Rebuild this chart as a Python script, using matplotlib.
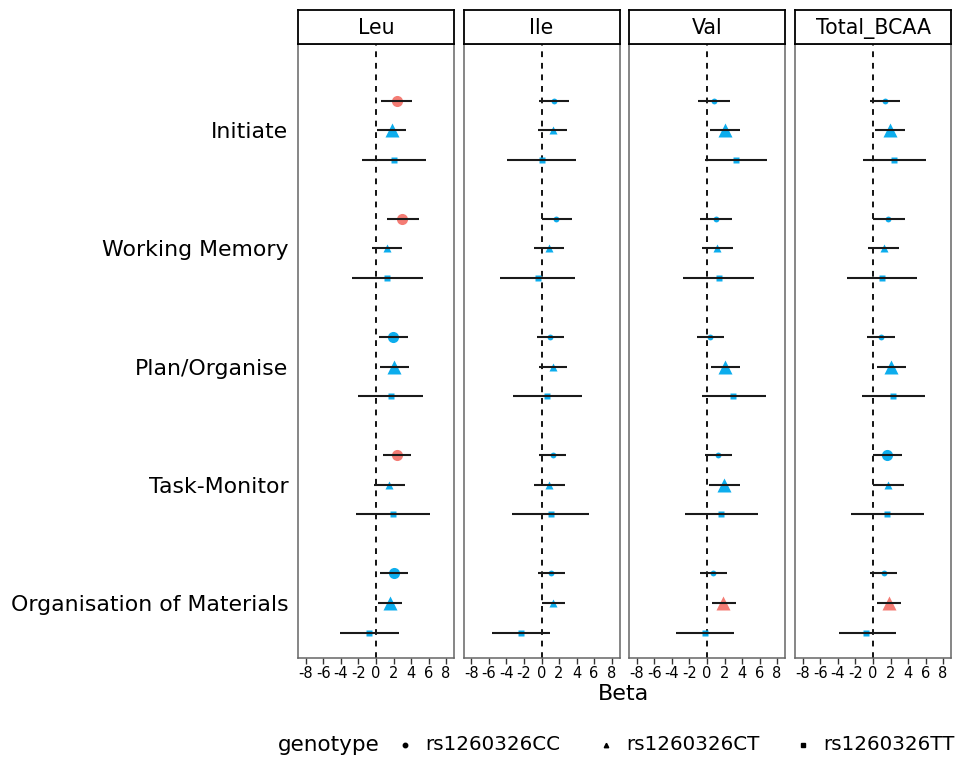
import numpy as np
import matplotlib
matplotlib.use("Agg")
import matplotlib.pyplot as plt

# --- data ---
outcomes = ["Initiate", "Working Memory", "Plan/Organise", "Task-Monitor",
            "Organisation of Materials"]
genotypes = ["rs1260326CC", "rs1260326CT", "rs1260326TT"]
panels = ["Leu", "Ile", "Val", "Total_BCAA"]

# order: outcome by outcome, CC / CT / TT inside each
leu_beta = [2.36, 1.79, 2.02, 3.0, 1.22, 1.3, 1.9, 2.02, 1.71, 2.4, 1.52, 1.9, 2.02, 1.6, -0.8]
leu_lo = [0.57, 0.11, -1.64, 1.26, -0.5, -2.7, 0.3, 0.42, -2.02, 0.76, -0.27, -2.25, 0.5, 0.19, -4.11]
leu_hi = [4.15, 3.43, 5.75, 4.88, 2.97, 5.37, 3.66, 3.73, 5.41, 4.04, 3.31, 6.13, 3.66, 2.97, 2.59]
leu_sig = [2, 1, 0, 2, 0, 0, 1, 1, 0, 2, 0, 0, 1, 1, 0]

ile_beta = [1.37, 1.26, 0.0, 1.68, 0.84, -0.42, 0.99, 1.33, 0.65, 1.26, 0.91, 1.03, 1.14, 1.33, -2.36]
ile_lo = [-0.3, -0.42, -3.92, 0.0, -0.84, -4.69, -0.53, -0.3, -3.28, -0.23, -0.8, -3.39, -0.38, 0.0, -5.68]
ile_hi = [3.09, 2.9, 3.96, 3.47, 2.59, 3.85, 2.59, 2.93, 4.61, 2.78, 2.7, 5.41, 2.67, 2.63, 0.95]
ile_sig = [0] * 15

val_beta = [0.76, 2.02, 3.28, 1.03, 1.18, 1.33, 0.3, 2.1, 3.0, 1.26, 1.98, 1.6, 0.72, 1.87, -0.27]
val_lo = [-0.99, 0.38, -0.23, -0.76, -0.57, -2.7, -1.14, 0.46, -0.53, -0.27, 0.23, -2.55, -0.76, 0.57, -3.58]
val_hi = [2.59, 3.73, 6.82, 2.9, 2.97, 5.37, 1.94, 3.77, 6.7, 2.86, 3.81, 5.83, 2.32, 3.28, 3.05]
val_sig = [0, 1, 0, 0, 0, 0, 0, 1, 0, 0, 1, 0, 0, 2, 0]

tot_beta = [1.37, 1.94, 2.44, 1.75, 1.22, 1.03, 0.91, 2.06, 2.29, 1.64, 1.75, 1.64, 1.22, 1.83, -0.8]
tot_lo = [-0.34, 0.27, -1.14, 0.0, -0.57, -2.93, -0.72, 0.42, -1.3, 0.0, 0.0, -2.48, -0.3, 0.46, -3.85]
tot_hi = [3.12, 3.62, 6.06, 3.62, 2.97, 5.03, 2.55, 3.73, 5.9, 3.28, 3.58, 5.79, 2.78, 3.2, 2.67]
tot_sig = [0, 1, 0, 0, 0, 0, 0, 1, 0, 1, 0, 0, 0, 2, 0]

xticks = [-8, -6, -4, -2, 0, 2, 4, 6, 8]

panel_data = {
    "Leu": (leu_beta, leu_lo, leu_hi, leu_sig),
    "Ile": (ile_beta, ile_lo, ile_hi, ile_sig),
    "Val": (val_beta, val_lo, val_hi, val_sig),
    "Total_BCAA": (tot_beta, tot_lo, tot_hi, tot_sig),
}

# --- styling ---
RED = "#F4756D"
BLUE = "#00A9EC"
markers = ["o", "^", "s"]
dodge = [0.25, 0.0, -0.25]
# marker size (points) for [not significant, significant]
msize = {"o": [4.2, 8.0], "^": [5.2, 10.0], "s": [4.2, 4.2]}

W, H = 975, 757
fig = plt.figure(figsize=(W / 100, H / 100), dpi=100)

panel_left = [298, 463.5, 629, 795]
panel_w = 156
top_px, bot_px = 44, 658
strip_top = 10

ypos = {o: 5 - i for i, o in enumerate(outcomes)}

for k, name in enumerate(panels):
    x0 = panel_left[k] / W
    ax = fig.add_axes([x0, 1 - bot_px / H, panel_w / W, (bot_px - top_px) / H])
    beta, lo, hi, sig = panel_data[name]

    ax.axvline(0, color="black", ls=(0, (3.2, 3.2)), lw=1.3, zorder=1)

    for i, o in enumerate(outcomes):
        for g in range(3):
            j = i * 3 + g
            y = ypos[o] + dodge[g]
            m = markers[g]
            s = sig[j]
            col = RED if s == 2 else BLUE
            ms = msize[m][1 if s > 0 else 0]
            ax.plot(beta[j], y, marker=m, ms=ms, color=col, mec="none",
                    alpha=0.95, zorder=2, ls="none")
            ax.plot([lo[j], hi[j]], [y, y], color="#1a1a1a", lw=1.5,
                    solid_capstyle="butt", zorder=3)

    ax.set_xlim(-8.9, 8.9)
    ax.set_ylim(0.535, 5.73)
    ax.set_xticks(xticks)
    ax.set_xticklabels([str(t) for t in xticks], fontsize=10.5)
    ax.tick_params(axis="x", length=4, width=1, color="#333333", pad=1.5)
    ax.set_yticks([ypos[o] for o in outcomes])
    if k == 0:
        ax.set_yticklabels(outcomes, fontsize=15.8)
        ax.tick_params(axis="y", length=0, pad=7)
    else:
        ax.set_yticklabels([])
        ax.tick_params(axis="y", length=0)
    for sp in ax.spines.values():
        sp.set_color("#666666")
        sp.set_linewidth(1.1)

    # facet strip
    sax = fig.add_axes([x0, 1 - top_px / H, panel_w / W, (top_px - strip_top) / H])
    sax.set_xticks([])
    sax.set_yticks([])
    for sp in sax.spines.values():
        sp.set_color("black")
        sp.set_linewidth(1.3)
    sax.text(0.5, 0.47, name, ha="center", va="center", fontsize=14.8,
             transform=sax.transAxes)

fig.text(624 / W, 1 - 694 / H, "Beta", ha="center", va="center", fontsize=16)

# legend drawn on an overlay in pixel units
lax = fig.add_axes([0, 0, 1, 1], facecolor="none")
lax.set_xlim(0, W)
lax.set_ylim(H, 0)
lax.axis("off")
leg_y = 745
lax.text(278, leg_y, "genotype", ha="left", va="center", fontsize=15.5)
key_x = [405, 606, 803]
for m, lab, kx in zip(markers, genotypes, key_x):
    lax.plot(kx, leg_y, marker=m, color="black", ms=3.2, ls="none")
    lax.text(kx + 20, leg_y, lab, ha="left", va="center", fontsize=14.3)

fig.savefig("out.png", dpi=100)
